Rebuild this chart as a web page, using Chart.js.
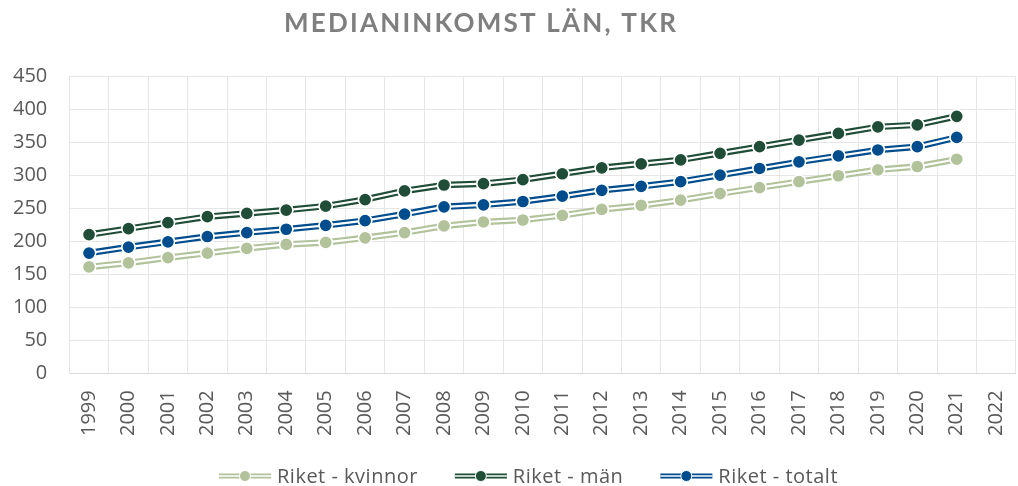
<!DOCTYPE html>
<html><head><meta charset="utf-8">
<script src="https://cdn.jsdelivr.net/npm/chart.js@4.4.1/dist/chart.umd.min.js"></script>
<style>html,body{margin:0;padding:0;overflow:hidden;background:#fff}#wrap{width:1024px;height:486px;position:relative}</style>
</head><body><div id="wrap"><canvas id="c"></canvas></div>
<script>
// ---- data ----
const chartTitle = 'MEDIANINKOMST LÄN, TKR';
const years = ['1999','2000','2001','2002','2003','2004','2005','2006','2007','2008','2009','2010','2011','2012','2013','2014','2015','2016','2017','2018','2019','2020','2021','2022'];
const seriesNames = ['Riket - kvinnor', 'Riket - män', 'Riket - totalt'];
const kvinnor = [161,167,175,182,189,195,198,205,213,223,229,232,239,248,254,262,272,281,290,299,308,313,324,null];
const man     = [210,219,228,237,242,247,253,263,276,285,287,293,302,311,317,323,333,343,353,363,373,376,389,null];
const totalt  = [182,191,199,207,213,218,224,231,241,252,255,260,268,277,283,290,300,310,320,329,338,343,357,null];
const yMin = 0, yMax = 450, yStep = 50;

// ---- styles ----
const colors = ['#B2C29B', '#1F4D37', '#004D8E'];
const textColor = '#595959';
const gridColor = '#E6E6E6';
const FONT = '"Open Sans"';

// compound (double) line: white core stroked over the line, then points redrawn
const compoundLine = {
  id: 'compoundLine',
  afterDatasetDraw(chart, args) {
    const meta = args.meta;
    const ctx = chart.ctx;
    const pts = meta.data;
    ctx.save();
    ctx.strokeStyle = '#FFFFFF';
    ctx.lineWidth = 2.2;
    ctx.lineJoin = 'round';
    ctx.beginPath();
    let started = false;
    pts.forEach(p => {
      if (p.skip) { started = false; return; }
      if (!started) { ctx.moveTo(p.x, p.y); started = true; }
      else ctx.lineTo(p.x, p.y);
    });
    ctx.stroke();
    pts.forEach(p => { if (!p.skip) p.draw(ctx, chart.chartArea); });
    ctx.restore();
  }
};

const titlePlugin = {
  id: 'customTitle',
  afterDraw(chart) {
    const ctx = chart.ctx;
    ctx.save();
    ctx.font = 'bold 26px Lato';
    ctx.fillStyle = '#7F7F7F';
    ctx.textAlign = 'center';
    ctx.textBaseline = 'middle';
    ctx.letterSpacing = '2.2px';
    ctx.fillText(chartTitle, 480 + 1.1, 24);
    ctx.restore();
  }
};

const legendPlugin = {
  id: 'customLegend',
  afterDraw(chart) {
    const ctx = chart.ctx;
    ctx.save();
    ctx.font = '20px ' + FONT;
    ctx.letterSpacing = '0.5px';
    ctx.textBaseline = 'middle';
    ctx.textAlign = 'left';
    const symW = 52, gapText = 6, gapItem = 37;
    const ds = chart.data.datasets;
    const widths = ds.map(d => symW + gapText + ctx.measureText(d.label).width);
    const total = widths.reduce((a, b) => a + b, 0) + gapItem * (ds.length - 1);
    let x = 528.5 - total / 2;
    const y = 476;
    ds.forEach((d, i) => {
      ctx.lineCap = 'butt';
      ctx.strokeStyle = d.borderColor;
      ctx.lineWidth = 5.2;
      ctx.beginPath(); ctx.moveTo(x, y); ctx.lineTo(x + symW, y); ctx.stroke();
      ctx.strokeStyle = '#FFFFFF';
      ctx.lineWidth = 1.7;
      ctx.beginPath(); ctx.moveTo(x, y); ctx.lineTo(x + symW, y); ctx.stroke();
      ctx.beginPath();
      ctx.arc(x + symW / 2, y, 5.5, 0, Math.PI * 2);
      ctx.fillStyle = d.borderColor; ctx.fill();
      ctx.lineWidth = 1; ctx.strokeStyle = '#FFFFFF'; ctx.stroke();
      ctx.fillStyle = textColor;
      ctx.fillText(d.label, x + symW + gapText, y + 1);
      x += widths[i] + gapItem;
    });
    ctx.restore();
  }
};

const values = [kvinnor, man, totalt];
const datasets = values.map((v, i) => ({
  label: seriesNames[i],
  data: v,
  borderColor: colors[i],
  backgroundColor: colors[i],
  borderWidth: 6.5,
  pointRadius: 6.6,
  pointHoverRadius: 6.6,
  pointBackgroundColor: colors[i],
  pointBorderColor: '#FFFFFF',
  pointBorderWidth: 1.5,
  tension: 0,
  fill: false
}));

new Chart(document.getElementById('c'), {
  type: 'line',
  data: { labels: years, datasets },
  options: {
    responsive: true,
    maintainAspectRatio: false,
    animation: false,
    layout: { padding: { top: 76, left: 13, right: 0, bottom: 33 } },
    plugins: { legend: { display: false }, title: { display: false }, tooltip: { enabled: false } },
    scales: {
      x: {
        offset: true,
        grid: { offset: true, color: gridColor, lineWidth: 1, drawTicks: false },
        border: { color: '#D9D9D9', width: 1 },
        ticks: { color: textColor, font: { family: FONT, size: 20 }, minRotation: 90, maxRotation: 90, autoSkip: false, padding: 17 },
        afterFit(scale) { scale.paddingLeft = 0; scale.paddingRight = 0; }
      },
      y: {
        min: yMin, max: yMax,
        grid: { color: gridColor, lineWidth: 1, drawTicks: false },
        border: { color: gridColor, width: 1 },
        ticks: { stepSize: yStep, color: textColor, font: { family: FONT, size: 20 }, padding: 22 },
        afterFit(scale) { scale.width -= 22; }
      }
    }
  },
  plugins: [compoundLine, titlePlugin, legendPlugin]
});
</script>
</body></html>
